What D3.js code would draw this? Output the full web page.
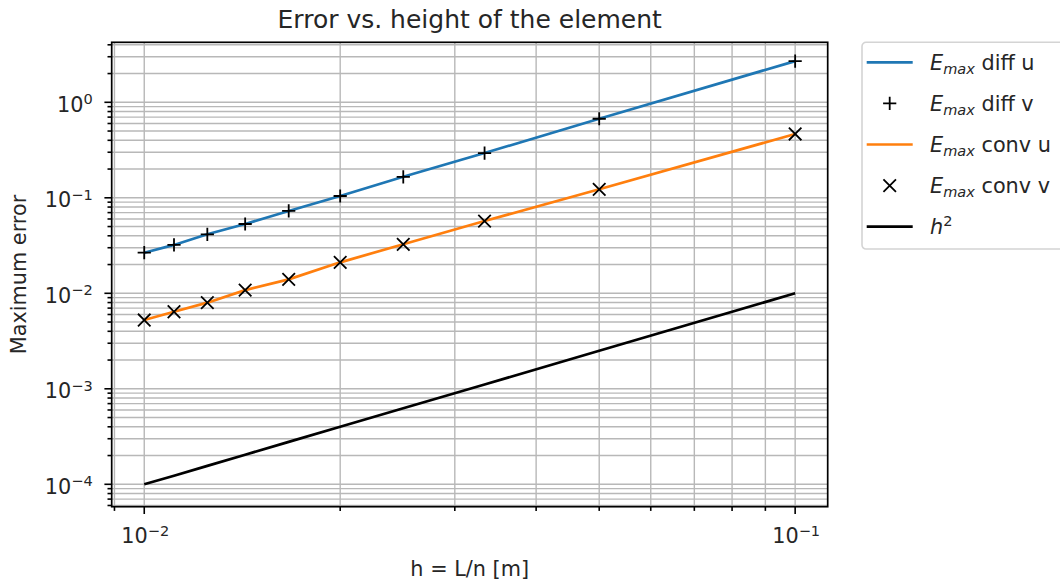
<!DOCTYPE html>
<html>
<head>
<meta charset="utf-8">
<script src="https://cdn.jsdelivr.net/npm/d3@7"></script>
<style>
  html, body { margin: 0; padding: 0; background: #fff; }
  svg text { font-family: "DejaVu Sans", sans-serif; fill: #262626; }
</style>
</head>
<body>
<svg id="chart" width="1060" height="585"></svg>
<script>
// Element height h = L/n for n = 10, 20, ..., 100 (L = 1 m)
const hValues = [0.1, 0.05, 0.03333, 0.025, 0.02, 0.01667, 0.01429, 0.0125, 0.01111, 0.01];
// Maximum errors of the diffusion and convection problems
const diffU = [2.70, 0.673, 0.294, 0.166, 0.1044, 0.0728, 0.0532, 0.0415, 0.0321, 0.0266];
const diffV = [2.70, 0.673, 0.294, 0.166, 0.1044, 0.0728, 0.0532, 0.0415, 0.0321, 0.0266];
const convU = [0.466, 0.1227, 0.0571, 0.0326, 0.0211, 0.0140, 0.0108, 0.00798, 0.00641, 0.00525];
const convV = [0.466, 0.1227, 0.0571, 0.0326, 0.0211, 0.0140, 0.0108, 0.00798, 0.00641, 0.00525];
// Reference slope h^2
const hSquared = [0.01, 0.0025, 0.001111, 0.000625, 0.0004, 0.000278, 0.000204, 0.000156, 0.000123, 0.0001];
// Axis decades
const xTickExp = [-2, -1];
const yTickExp = [-4, -3, -2, -1, 0];

const svg = d3.select("#chart");
const plot = { left: 111.7, right: 827.7, top: 42.3, bottom: 506.7 };
const fontSize = 20.8;

const x = d3.scaleLog().domain([Math.pow(10, -2.05), Math.pow(10, -0.95)]).range([plot.left, plot.right]);
const y = d3.scaleLog().domain([Math.pow(10, -4.2346), Math.pow(10, 0.6283)]).range([plot.bottom, plot.top]);

const gridColor = "#b8b8b8";
const gridWidth = 1.4;

// Major and minor tick values inside the visible domain
function logTicks(scale) {
  const [d0, d1] = scale.domain();
  const major = [], minor = [];
  for (let e = Math.floor(Math.log10(d0)); e <= Math.ceil(Math.log10(d1)); e++) {
    for (let m = 1; m <= 9; m++) {
      const v = m * Math.pow(10, e);
      if (v >= d0 && v <= d1) (m === 1 ? major : minor).push(v);
    }
  }
  return { major, minor };
}
const xt = logTicks(x), yt = logTicks(y);

// Grid
const grid = svg.append("g");
grid.selectAll(".gx").data(xt.major.concat(xt.minor)).join("line")
  .attr("x1", d => x(d)).attr("x2", d => x(d))
  .attr("y1", plot.top).attr("y2", plot.bottom)
  .attr("stroke", gridColor).attr("stroke-width", gridWidth);
grid.selectAll(".gy").data(yt.major.concat(yt.minor)).join("line")
  .attr("y1", d => y(d)).attr("y2", d => y(d))
  .attr("x1", plot.left).attr("x2", plot.right)
  .attr("stroke", gridColor).attr("stroke-width", gridWidth);

// Series
const line = d3.line().x(d => x(d[0])).y(d => y(d[1]));
const pairs = arr => hValues.map((h, i) => [h, arr[i]]);

const series = svg.append("g");
series.append("path").datum(pairs(diffU)).attr("d", line)
  .attr("fill", "none").attr("stroke", "#1f77b4").attr("stroke-width", 2.7);
series.append("path").datum(pairs(convU)).attr("d", line)
  .attr("fill", "none").attr("stroke", "#ff7f0e").attr("stroke-width", 2.7);
series.append("path").datum(pairs(hSquared)).attr("d", line)
  .attr("fill", "none").attr("stroke", "#000").attr("stroke-width", 2.7);

const ms = 6.6; // marker half size
function plusPath(cx, cy) {
  return `M${cx - ms},${cy}H${cx + ms}M${cx},${cy - ms}V${cy + ms}`;
}
function crossPath(cx, cy) {
  const s = ms * 0.95;
  return `M${cx - s},${cy - s}L${cx + s},${cy + s}M${cx - s},${cy + s}L${cx + s},${cy - s}`;
}
series.selectAll(".plus").data(pairs(diffV)).join("path")
  .attr("d", d => plusPath(x(d[0]), y(d[1])))
  .attr("stroke", "#000").attr("stroke-width", 1.8).attr("fill", "none");
series.selectAll(".cross").data(pairs(convV)).join("path")
  .attr("d", d => crossPath(x(d[0]), y(d[1])))
  .attr("stroke", "#000").attr("stroke-width", 1.8).attr("fill", "none");

// Frame
svg.append("rect")
  .attr("x", plot.left).attr("y", plot.top)
  .attr("width", plot.right - plot.left).attr("height", plot.bottom - plot.top)
  .attr("fill", "none").attr("stroke", "#000").attr("stroke-width", 1.7);

// Ticks
const ticks = svg.append("g").attr("stroke", "#000").attr("stroke-width", 1.6);
ticks.selectAll(".xtM").data(xt.major).join("line")
  .attr("x1", d => x(d)).attr("x2", d => x(d))
  .attr("y1", plot.bottom).attr("y2", plot.bottom + 7.3);
ticks.selectAll(".xtm").data(xt.minor).join("line")
  .attr("x1", d => x(d)).attr("x2", d => x(d))
  .attr("y1", plot.bottom).attr("y2", plot.bottom + 4.2);
ticks.selectAll(".ytM").data(yt.major).join("line")
  .attr("y1", d => y(d)).attr("y2", d => y(d))
  .attr("x1", plot.left).attr("x2", plot.left - 7.3);
ticks.selectAll(".ytm").data(yt.minor).join("line")
  .attr("y1", d => y(d)).attr("y2", d => y(d))
  .attr("x1", plot.left).attr("x2", plot.left - 4.2);

// Power-of-ten tick labels
function powLabel(sel, exp) {
  sel.append("tspan").text("10");
  sel.append("tspan").attr("dy", -7.5).attr("font-size", fontSize * 0.7)
    .text(exp < 0 ? "\u2212" + (-exp) : String(exp));
}
xTickExp.forEach(e => {
  const t = svg.append("text").attr("x", x(Math.pow(10, e)) + 1).attr("y", 543)
    .attr("text-anchor", "middle").attr("font-size", fontSize);
  powLabel(t, e);
});
yTickExp.forEach(e => {
  const t = svg.append("text").attr("x", plot.left - 19).attr("y", y(Math.pow(10, e)) + 9.5)
    .attr("text-anchor", "end").attr("font-size", fontSize);
  powLabel(t, e);
});

// Titles
svg.append("text").attr("x", (plot.left + plot.right) / 2).attr("y", 28)
  .attr("text-anchor", "middle").attr("font-size", 25)
  .text("Error vs. height of the element");
svg.append("text").attr("x", (plot.left + plot.right) / 2).attr("y", 576)
  .attr("text-anchor", "middle").attr("font-size", fontSize)
  .text("h = L/n [m]");
svg.append("text")
  .attr("transform", `translate(26,${(plot.top + plot.bottom) / 2}) rotate(-90)`)
  .attr("text-anchor", "middle").attr("font-size", fontSize)
  .text("Maximum error");

// Legend
const legendItems = [
  { kind: "line", color: "#1f77b4", label: " diff u", sym: "E", sub: "max" },
  { kind: "plus", color: "#000", label: " diff v", sym: "E", sub: "max" },
  { kind: "line", color: "#ff7f0e", label: " conv u", sym: "E", sub: "max" },
  { kind: "cross", color: "#000", label: " conv v", sym: "E", sub: "max" },
  { kind: "line", color: "#000", label: "", sym: "h", sup: "2" }
];
const lg = svg.append("g").attr("transform", "translate(862,42.3)");
lg.append("rect").attr("x", 0).attr("y", 0).attr("width", 230).attr("height", 206.7)
  .attr("rx", 4).attr("fill", "#fff").attr("stroke", "#d4d4d4").attr("stroke-width", 1.6);
legendItems.forEach((it, i) => {
  const cy = 20 + i * 41.1;
  const hx0 = 4.7, hx1 = 50.7, hc = (hx0 + hx1) / 2;
  if (it.kind === "line") {
    lg.append("line").attr("x1", hx0).attr("x2", hx1).attr("y1", cy).attr("y2", cy)
      .attr("stroke", it.color).attr("stroke-width", 2.7);
  } else if (it.kind === "plus") {
    lg.append("path").attr("d", plusPath(hc, cy)).attr("stroke", "#000").attr("stroke-width", 1.8);
  } else {
    lg.append("path").attr("d", crossPath(hc, cy)).attr("stroke", "#000").attr("stroke-width", 1.8);
  }
  const t = lg.append("text").attr("x", 68).attr("y", cy + 7.5).attr("font-size", fontSize);
  t.append("tspan").attr("font-style", "italic").text(it.sym);
  if (it.sub) {
    t.append("tspan").attr("font-style", "italic").attr("font-size", fontSize * 0.7)
      .attr("dy", 4).text(it.sub);
    t.append("tspan").attr("dy", -4).text(it.label);
  } else {
    t.append("tspan").attr("font-size", fontSize * 0.7).attr("dy", -8).text(it.sup);
  }
});
</script>
</body>
</html>
